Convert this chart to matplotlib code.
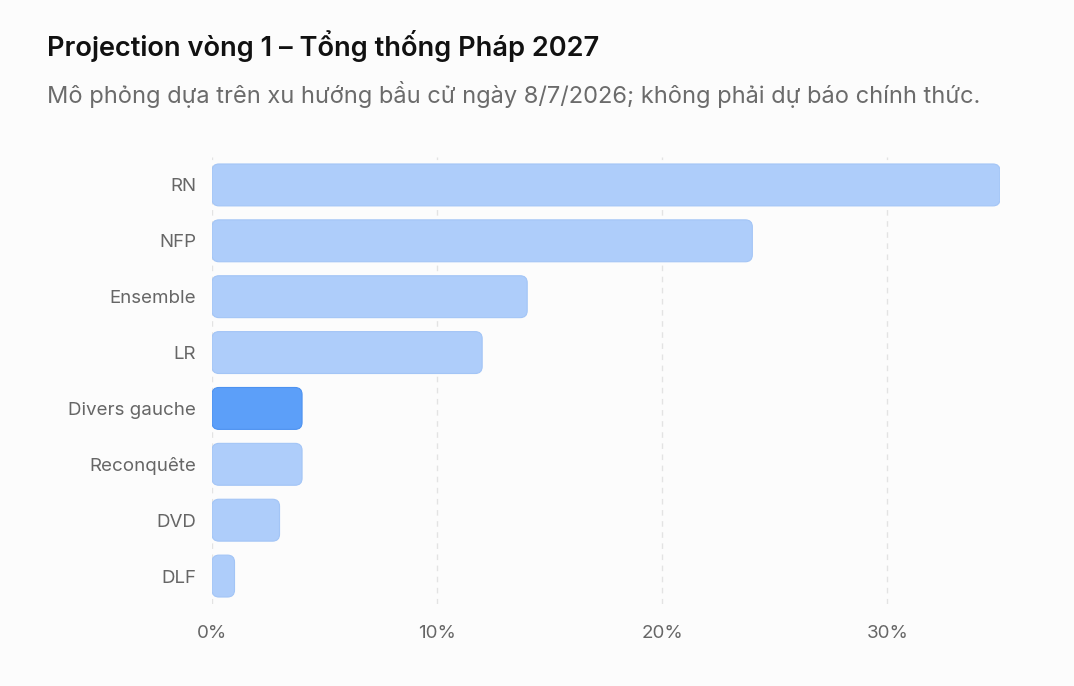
import matplotlib
matplotlib.use("Agg")
import matplotlib.pyplot as plt
from matplotlib.patches import FancyBboxPatch

plt.rcParams['font.family'] = ['Inter', 'DejaVu Sans']

parties = ["RN", "NFP", "Ensemble", "LR", "Divers gauche", "Reconquête", "DVD", "DLF"]
values = [35, 24, 14, 12, 4, 4, 3, 1]
highlight = "Divers gauche"
xticks = [0, 10, 20, 30]
xtick_labels = ["0%", "10%", "20%", "30%"]
title = "Projection vòng 1 – Tổng thống Pháp 2027"
subtitle = "Mô phỏng dựa trên xu hướng bầu cử ngày 8/7/2026; không phải dự báo chính thức."

W, H = 1074, 686
fig = plt.figure(figsize=(W/100, H/100), dpi=100)
bg = "#fcfcfc"
fig.patch.set_facecolor(bg)

left, right, top, bottom = 212, 1000, 157, 604
ax = fig.add_axes([left/W, 1-bottom/H, (right-left)/W, (bottom-top)/H])
ax.set_facecolor(bg)
xmax = 35
ax.set_xlim(0, xmax)
ax.set_ylim(len(parties)-0.5, -0.5)

px_per_x = (right-left)/xmax
px_per_y = (bottom-top)/len(parties)
aspect = px_per_x/px_per_y
bh = 0.75
r = 7/px_per_x
for i, (p, v) in enumerate(zip(parties, values)):
    if p == highlight:
        fc, ec = "#5c9ff9", "#4d92f0"
    else:
        fc, ec = "#aecdfa", "#a3c5f6"
    patch = FancyBboxPatch((0, i-bh/2), v, bh,
                           boxstyle=f"round,pad=0,rounding_size={r}",
                           mutation_aspect=aspect,
                           facecolor=fc, edgecolor=ec, linewidth=0.8, zorder=3)
    ax.add_patch(patch)

for x in xticks:
    ax.axvline(x, color="#e3e3e3", linestyle=(0, (4, 4)), linewidth=1, zorder=1)

ax.set_yticks(range(len(parties)))
ax.set_yticklabels(parties)
ax.set_xticks(xticks)
ax.set_xticklabels(xtick_labels)
ax.tick_params(axis='both', length=0, labelsize=13.5, labelcolor="#666666")
ax.tick_params(axis='y', pad=11.5)
ax.tick_params(axis='x', pad=15)
for s in ax.spines.values():
    s.set_visible(False)

fig.text(47/W, 1-46/H, title, fontsize=19.6, fontweight='semibold', color="#111111", va='center', ha='left')
fig.text(47/W, 1-95/H, subtitle, fontsize=17.0, color="#6b6b6b", va='center', ha='left')

fig.savefig("out.png", dpi=100, facecolor=bg)
